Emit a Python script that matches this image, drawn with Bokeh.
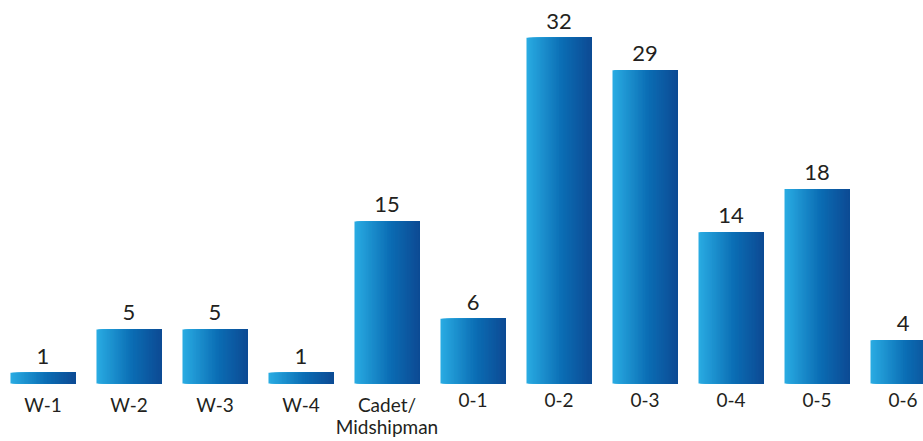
from bokeh.plotting import figure
from bokeh.models import Range1d, ColumnDataSource
from bokeh.core.properties import value
from bokeh.embed import file_html
from bokeh.resources import INLINE

categories = ["W-1", "W-2", "W-3", "W-4", "Cadet/\nMidshipman", "0-1", "0-2", "0-3", "0-4", "0-5", "0-6"]
counts = [1, 5, 5, 1, 15, 6, 32, 29, 14, 18, 4]

idx = list(range(len(categories)))
BAR_W = 0.756
N_STRIPS = 48
stops = [(0.0, (0x29, 0xab, 0xe2)), (0.55, (0x0b, 0x6d, 0xb4)), (1.0, (0x0d, 0x4b, 0x94))]


def grad(t):
    for (t0, c0), (t1, c1) in zip(stops[:-1], stops[1:]):
        if t <= t1:
            f = (t - t0) / (t1 - t0)
            return "#%02x%02x%02x" % tuple(round(a + (b - a) * f) for a, b in zip(c0, c1))
    return "#%02x%02x%02x" % stops[-1][1]


p = figure(width=923, height=441, output_backend="svg", toolbar_location=None,
           x_range=Range1d(-0.494, 10.238), y_range=Range1d(-5.37, 35.46),
           min_border=0)
p.outline_line_color = None
p.background_fill_color = "white"
p.border_fill_color = "white"
p.grid.visible = False
p.xaxis.visible = False
p.yaxis.visible = False

# gradient fill: overlapping strips, each reaching to the bar's right edge
sw = BAR_W / N_STRIPS
for k in range(N_STRIPS):
    left = -BAR_W / 2 + k * sw
    right = BAR_W / 2
    src = ColumnDataSource(dict(x=[i + (left + right) / 2 for i in idx], top=counts))
    c = grad(k / (N_STRIPS - 1))
    p.vbar(x="x", top="top", bottom=0, width=right - left, source=src,
           fill_color=c, line_color=None)

lab = ColumnDataSource(dict(x=idx, y=counts, t=[str(v) for v in counts]))
p.text(x="x", y="y", text="t", source=lab, text_align="center", text_baseline="bottom",
       y_offset=-9, text_font=value("Lato"), text_font_size="22px", text_color="#231f20")

cat = ColumnDataSource(dict(x=idx, y=[0] * len(idx), t=categories))
p.text(x="x", y="y", text="t", source=cat, text_align="center", text_baseline="top",
       y_offset=10, text_font=value("Lato"), text_font_size="19px", text_color="#231f20",
       text_line_height=0.95)

open("out.html", "w").write(file_html(p, INLINE))
